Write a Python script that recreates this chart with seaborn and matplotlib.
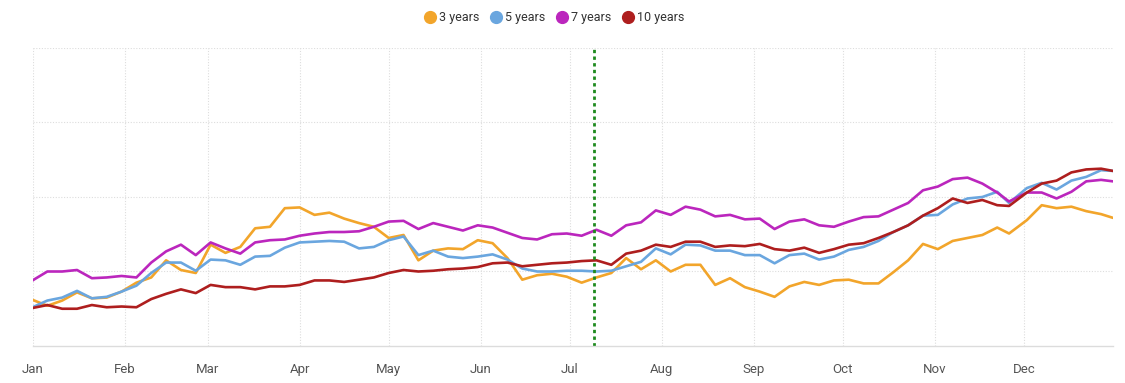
import numpy as np
import pandas as pd
import matplotlib
matplotlib.use("Agg")
import matplotlib.pyplot as plt
import matplotlib.dates as mdates
from matplotlib.lines import Line2D
import seaborn as sns

# ---- data ----
days = list(range(0, 326, 5)) + [329] + list(range(335, 361, 5)) + [364]

y3 = [0.62, 0.54, 0.61, 0.72, 0.64, 0.65, 0.73, 0.85, 0.92, 1.15, 1.02, 0.98, 1.36, 1.25,
      1.33, 1.58, 1.60, 1.85, 1.86, 1.76, 1.79, 1.71, 1.65, 1.60, 1.45, 1.49, 1.15, 1.28,
      1.31, 1.30, 1.42, 1.38, 1.18, 0.89, 0.95, 0.97, 0.93, 0.85, 0.92, 0.98, 1.18, 1.03,
      1.15, 1.00, 1.09, 1.09, 0.82, 0.91, 0.79, 0.73, 0.66, 0.80, 0.86, 0.82, 0.88, 0.89,
      0.84, 0.84, 0.99, 1.15, 1.37, 1.30, 1.41, 1.45, 1.49, 1.59, 1.51, 1.69, 1.89, 1.85,
      1.87, 1.81, 1.77, 1.72]
y5 = [0.52, 0.61, 0.65, 0.74, 0.64, 0.66, 0.73, 0.81, 0.98, 1.12, 1.12, 1.01, 1.16, 1.15,
      1.09, 1.20, 1.21, 1.32, 1.39, 1.40, 1.41, 1.40, 1.31, 1.33, 1.42, 1.47, 1.22, 1.28,
      1.20, 1.18, 1.20, 1.23, 1.16, 1.04, 1.00, 1.00, 1.01, 1.01, 1.00, 1.01, 1.07, 1.13,
      1.31, 1.23, 1.36, 1.35, 1.28, 1.28, 1.22, 1.22, 1.11, 1.22, 1.24, 1.16, 1.20, 1.29,
      1.33, 1.41, 1.53, 1.62, 1.75, 1.76, 1.90, 1.98, 2.00, 2.07, 1.92, 2.12, 2.19, 2.10,
      2.22, 2.27, 2.36, 2.35]
y7 = [0.88, 1.00, 1.00, 1.02, 0.91, 0.92, 0.94, 0.92, 1.12, 1.27, 1.36, 1.22, 1.39, 1.31,
      1.24, 1.39, 1.42, 1.43, 1.48, 1.51, 1.53, 1.53, 1.54, 1.60, 1.67, 1.68, 1.57, 1.65,
      1.60, 1.55, 1.62, 1.59, 1.52, 1.45, 1.43, 1.50, 1.51, 1.48, 1.56, 1.48, 1.62, 1.66,
      1.82, 1.76, 1.87, 1.83, 1.74, 1.76, 1.70, 1.71, 1.57, 1.67, 1.70, 1.62, 1.60, 1.67,
      1.73, 1.74, 1.83, 1.92, 2.09, 2.14, 2.24, 2.26, 2.18, 2.06, 1.94, 2.06, 2.06, 1.98,
      2.07, 2.21, 2.23, 2.21]
y10 = [0.51, 0.55, 0.50, 0.50, 0.55, 0.52, 0.53, 0.52, 0.63, 0.70, 0.76, 0.71, 0.82, 0.79,
       0.79, 0.76, 0.80, 0.80, 0.82, 0.88, 0.88, 0.86, 0.89, 0.92, 0.98, 1.02, 1.00, 1.01,
       1.03, 1.04, 1.06, 1.11, 1.12, 1.07, 1.09, 1.11, 1.12, 1.14, 1.15, 1.09, 1.24, 1.28,
       1.36, 1.33, 1.40, 1.40, 1.33, 1.35, 1.34, 1.37, 1.30, 1.28, 1.32, 1.25, 1.30, 1.36,
       1.38, 1.45, 1.53, 1.62, 1.75, 1.85, 1.98, 1.92, 1.96, 1.89, 1.88, 2.06, 2.18, 2.22,
       2.33, 2.37, 2.38, 2.35]

series_names = ["3 years", "5 years", "7 years", "10 years"]
series_colors = ["#F2A52B", "#6AA6DF", "#BB26BD", "#AE1E1E"]
marker_date = "2023-07-09"
month_labels = ["Jan", "Feb", "Mar", "Apr", "May", "Jun", "Jul", "Aug", "Sep", "Oct", "Nov", "Dec"]

start = pd.Timestamp("2023-01-01")
dates = start + pd.to_timedelta(days, unit="D")
df = pd.concat([
    pd.DataFrame({"date": dates, "value": vals, "series": name})
    for name, vals in zip(series_names, [y3, y5, y7, y10])
], ignore_index=True)

# ---- figure ----
sns.set_theme(style="white")
plt.rcParams["font.family"] = ["Roboto", "DejaVu Sans"]

fig = plt.figure(figsize=(11.25, 3.83), dpi=100)
ax = fig.add_axes([0.0289, 0.0966, 0.9604, 0.7781])

palette = dict(zip(series_names, series_colors))
sns.lineplot(data=df, x="date", y="value", hue="series", palette=palette,
             hue_order=series_names, linewidth=1.9, ax=ax, legend=False)

ax.set_xlim(start, start + pd.Timedelta(days=364))
ax.set_ylim(0, 4)
ax.set_xlabel("")
ax.set_ylabel("")

month_starts = pd.date_range("2023-01-01", periods=12, freq="MS")
ax.set_xticks(month_starts)
ax.set_xticklabels(month_labels, fontsize=9.5, color="#555555")
ax.set_yticks([1, 2, 3, 4])
ax.set_yticklabels([])
ax.tick_params(axis="y", length=0)
ax.tick_params(axis="x", length=5, width=0.8, color="#e6e6e6", pad=7)

ax.grid(True, axis="both", color="#dddddd", linestyle=(0, (1, 1.5)), linewidth=0.8)
ax.set_axisbelow(True)
for side in ["top", "right", "left"]:
    ax.spines[side].set_visible(False)
ax.spines["bottom"].set_color("#dcdcdc")
ax.spines["bottom"].set_linewidth(1.0)

ax.axvline(pd.Timestamp(marker_date), color="#1E8A1E", linestyle=(0, (1.2, 1.2)), linewidth=2.0)

handles = [Line2D([0], [0], marker="o", linestyle="none", markersize=8.5,
                  markerfacecolor=c, markeredgecolor=c) for c in series_colors]
fig.legend(handles, series_names, loc="upper center", bbox_to_anchor=(0.493, 1.0),
           ncol=4, frameon=False, fontsize=9, handletextpad=0.35, columnspacing=0.9,
           handlelength=0.8, labelcolor="#333333")

fig.savefig("out.png", dpi=100)
